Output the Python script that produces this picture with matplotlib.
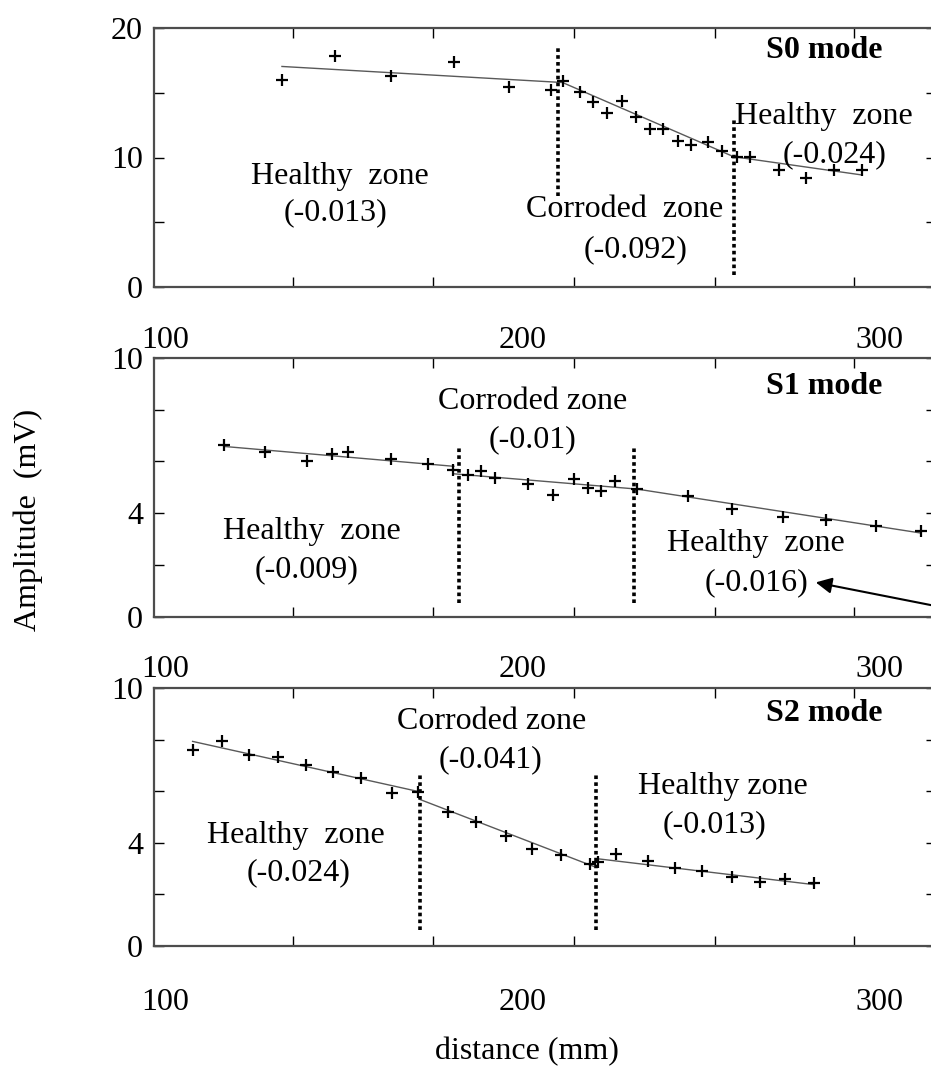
import numpy as np
import matplotlib
matplotlib.use('Agg')
import matplotlib.pyplot as plt

plt.rcParams['font.family'] = ['Liberation Serif', 'DejaVu Serif']

# ---- S0 mode ----
s0_x = [132.7, 147.5, 163.2, 180.7, 196.1, 208.0, 211.2, 216.0, 219.8, 223.7, 227.8, 231.7,
        235.6, 239.2, 243.4, 247.2, 252.0, 255.9, 260.1, 263.7, 271.7, 279.4, 287.3, 295.0]
s0_y = [16.0, 17.86, 16.31, 17.37, 15.41, 15.23, 15.92, 15.05, 14.30, 13.47, 14.37, 13.11,
        12.21, 12.21, 11.30, 10.97, 11.23, 10.53, 10.01, 10.06, 9.03, 8.39, 9.03, 9.03]
s0_fit = [([132.7, 211.2], [17.03, 15.79]),
          ([211.2, 259.1], [15.79, 10.06]),
          ([259.1, 295.0], [10.06, 8.65])]
s0_bounds = [(210.0, 7.0, 18.6), (259.1, 0.9, 13.0)]
s0_texts = [(149.0, 8.5, 'Healthy  zone'), (147.8, 5.7, '(-0.013)'),
            (228.6, 5.95, 'Corroded  zone'), (231.5, 2.86, '(-0.092)'),
            (284.3, 13.2, 'Healthy  zone'), (287.4, 10.2, '(-0.024)')]

# ---- S1 mode ----
s1_x = [116.4, 127.9, 139.8, 146.7, 151.3, 163.2, 173.6, 180.5, 184.8, 188.3, 192.3, 201.6,
        208.6, 214.5, 218.3, 221.9, 225.8, 232.0, 246.2, 258.7, 273.0, 284.9, 299.0, 311.4]
s1_y = [6.65, 6.36, 6.0, 6.30, 6.35, 6.09, 5.91, 5.68, 5.46, 5.61, 5.35, 5.12,
        4.71, 5.33, 4.99, 4.86, 5.25, 4.94, 4.65, 4.17, 3.83, 3.74, 3.51, 3.29]
s1_fit = [([116.4, 180.8], [6.58, 5.81]),
          ([180.8, 232.0], [5.52, 4.93]),
          ([232.0, 311.4], [4.93, 3.23])]
s1_bounds = [(182.1, 0.52, 6.58), (231.1, 0.52, 6.58)]
s1_texts = [(202.7, 8.33, 'Corroded zone'), (202.7, 6.84, '(-0.01)'),
            (141.1, 3.29, 'Healthy  zone'), (139.6, 1.8, '(-0.009)'),
            (265.2, 2.81, 'Healthy  zone'), (265.6, 1.29, '(-0.016)')]

# ---- S2 mode ----
s2_x = [107.7, 115.8, 123.6, 131.5, 139.3, 147.0, 154.7, 163.4, 170.8, 179.2, 187.1, 195.4,
        202.6, 210.8, 218.9, 221.1, 226.3, 235.2, 242.7, 250.3, 258.5, 266.4, 273.5, 281.5]
s2_y = [7.61, 7.96, 7.39, 7.32, 7.02, 6.74, 6.53, 5.92, 5.95, 5.19, 4.79, 4.28,
        3.76, 3.53, 3.18, 3.27, 3.56, 3.31, 3.01, 2.92, 2.69, 2.50, 2.60, 2.46]
s2_fit = [([107.7, 170.8], [7.93, 5.99]),
          ([171.3, 220.0], [5.68, 3.08]),
          ([221.1, 281.5], [3.38, 2.38])]
s2_bounds = [(171.2, 0.62, 6.64), (220.7, 0.62, 6.64)]
s2_texts = [(191.5, 8.70, 'Corroded zone'), (191.1, 7.22, '(-0.041)'),
            (136.6, 4.27, 'Healthy  zone'), (137.4, 2.83, '(-0.024)'),
            (256.0, 6.18, 'Healthy zone'), (253.8, 4.70, '(-0.013)')]

x_ticks = [100, 200, 300]
x_minor = [135.8, 175.0, 214.4, 253.8, 292.7]

W, H = 931, 1072
FS = 23
fig = plt.figure(figsize=(W / 100, H / 100), dpi=100)


def make_axes(top_px, bottom_px):
    left, right = 154, 936
    return fig.add_axes([left / W, 1 - bottom_px / H, (right - left) / W, (bottom_px - top_px) / H])


panels = [
    (make_axes(28, 287), s0_x, s0_y, s0_fit, s0_bounds, s0_texts, 'S0 mode', 20, [0, 10, 20], [5, 15], 18.3, 28),
    (make_axes(358, 616.5), s1_x, s1_y, s1_fit, s1_bounds, s1_texts, 'S1 mode', 10, [0, 4, 10], [2, 6, 8], 8.9, 28),
    (make_axes(688, 946), s2_x, s2_y, s2_fit, s2_bounds, s2_texts, 'S2 mode', 10, [0, 4, 10], [2, 6, 8], 9.0, 30),
]

for ax, xs, ys, fit, bounds, texts, title, ymax, yt, ym, title_y, xpad in panels:
    ax.set_xlim(96.9, 315.7)
    ax.set_ylim(0, ymax)

    # fitted trend segments
    for fx, fy in fit:
        ax.plot(fx, fy, color='0.35', lw=1.0)
    # measured points
    ax.plot(xs, ys, '+', color='black', ms=8, mew=1.6)
    # zone boundaries
    for bx, y0, y1 in bounds:
        ax.plot([bx, bx], [y0, y1], color='black', lw=2.6, linestyle=(0, (1, 0.9)))

    for tx, ty, s in texts:
        ax.text(tx, ty, s, fontsize=FS, ha='center', va='center')
    ax.text(284.3, title_y, title, fontsize=FS, fontweight='bold', ha='center', va='center')

    ax.set_xticks(x_ticks)
    ax.set_xticklabels([str(v) for v in x_ticks])
    ax.set_xticks(x_minor, minor=True)
    ax.set_yticks(yt)
    ax.set_yticks(ym, minor=True)
    ax.tick_params(axis='x', which='major', length=0, pad=xpad, labelsize=FS)
    ax.tick_params(axis='x', which='minor', direction='in', length=7, top=True, bottom=True, width=1)
    ax.tick_params(axis='y', which='both', direction='in', length=7, left=True, right=True,
                   labelsize=FS, pad=8, width=1)
    for sp in ax.spines.values():
        sp.set_color('0.3')
        sp.set_linewidth(1.6)

# arrow pointing at the S1 right-hand slope label
ax1 = panels[1][0]
ax1.annotate('', xy=(281.3, 1.34), xytext=(322.4, 0.22),
             arrowprops=dict(arrowstyle='-|>', color='black', lw=1.5, mutation_scale=24),
             annotation_clip=False)

fig.text(28 / W, 1 - 520 / H, 'Amplitude  (mV)', rotation=90, fontsize=FS, ha='center', va='center')
fig.text(527 / W, 1 - 1052 / H, 'distance (mm)', fontsize=FS, ha='center', va='center')

fig.savefig('out.png', dpi=100)
